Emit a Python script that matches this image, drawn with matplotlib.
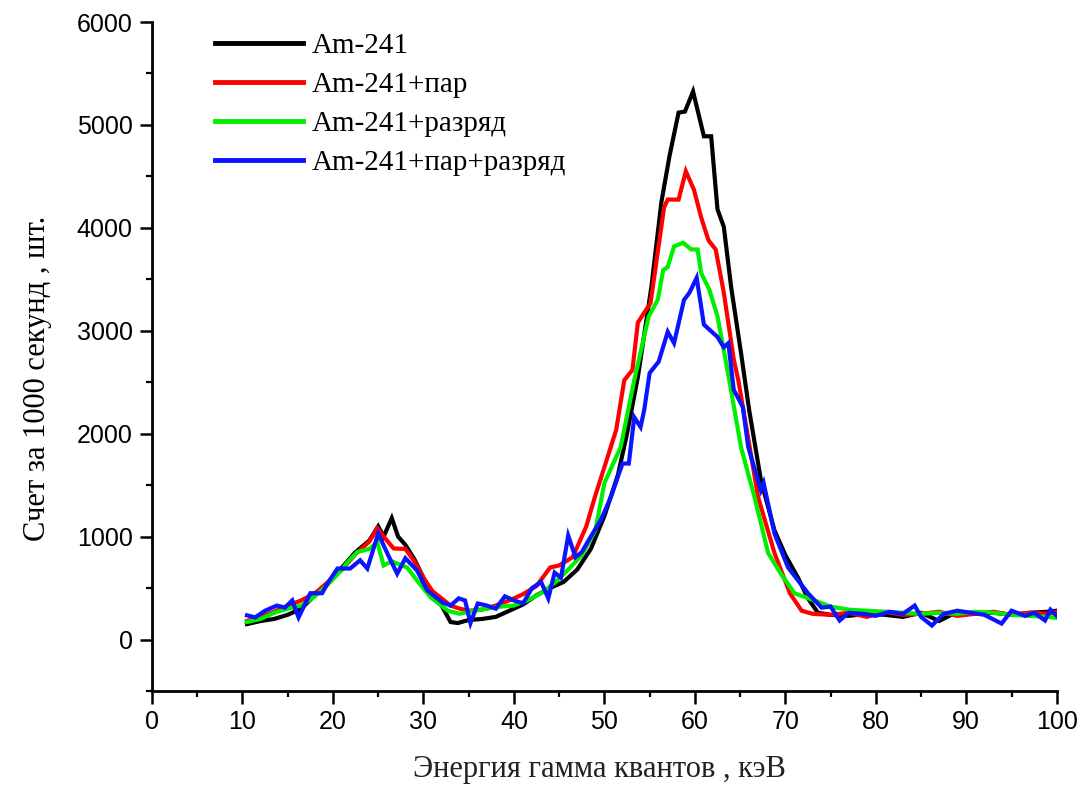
import matplotlib
matplotlib.use("Agg")
import matplotlib.pyplot as plt
from matplotlib.ticker import MultipleLocator

# Am-241 (black)
e_am = [10.5, 12, 13.5, 15, 16.5, 18, 19.5, 21, 22.5, 24, 25, 25.6, 26.5, 27.2, 28, 29, 30, 31, 32, 33,
        33.8, 35, 36.5, 38, 39.5, 41, 42.5, 44, 45.5, 47, 48.5, 50, 51.5, 52.5, 53.7, 55.2, 56.3, 57.2,
        58.2, 58.9, 59.8, 61.0, 61.8, 62.5, 63.2, 64, 65.1, 66, 67.3, 68.8, 70, 71.4, 72.5, 73.6, 75, 77,
        79, 81, 83, 85, 87, 89, 91, 93, 95, 97, 99, 100]
c_am = [150, 180, 200, 240, 300, 430, 560, 700, 850, 960, 1100, 1000, 1180, 1000, 920, 780, 600, 450, 330, 170,
        160, 190, 200, 220, 280, 340, 430, 500, 560, 680, 880, 1200, 1600, 2000, 2550, 3430, 4250, 4700,
        5120, 5130, 5325, 4890, 4890, 4180, 4010, 3430, 2785, 2230, 1550, 1060, 820, 600, 400, 260, 240, 230,
        250, 240, 220, 260, 180, 270, 250, 260, 240, 260, 270, 280]

# Am-241 + пар (red)
e_par = [10.5, 12, 13.5, 15, 16.5, 18, 19.5, 21, 22.5, 24, 24.9, 25.8, 26.7, 28, 29, 30, 31, 32, 33, 34,
         35, 36.5, 38, 39.5, 41, 42.5, 44, 45, 46.5, 48, 49, 50, 51.3, 52.2, 53.1, 53.7, 55.1, 56.6, 57,
         58.2, 59.0, 59.9, 60.7, 61.5, 62.3, 63.2, 64.3, 64.8, 66, 67, 68.8, 70.5, 71.8, 73, 75, 77, 79,
         81, 83, 85, 87, 89, 91, 93, 95, 97, 99, 100]
c_par = [180, 220, 270, 330, 380, 450, 560, 680, 830, 950, 1080, 980, 885, 880, 760, 600, 470, 400, 330, 300,
         280, 290, 330, 380, 440, 520, 700, 720, 800, 1100, 1400, 1675, 2035, 2520, 2620, 3080, 3270, 4200, 4275,
         4275, 4550, 4370, 4100, 3880, 3790, 3370, 2720, 2520, 1900, 1380, 840, 450, 280, 250, 240, 260, 220,
         270, 240, 250, 270, 230, 250, 270, 240, 260, 250, 270]

# Am-241 + разряд (green)
e_raz = [10.5, 12, 13.5, 15, 16.5, 18, 19.5, 21, 21.6, 22.7, 24, 24.9, 25.6, 26.5, 28.2, 29.5, 30.8, 32.7,
         34, 35.5, 37, 38.5, 40, 41.5, 43, 44.5, 46, 47.5, 49, 50, 51.8, 53.3, 54.9, 55.9, 56.5, 57, 57.7,
         58.7, 59.6, 60.3, 60.7, 61.6, 62.5, 63.2, 63.8, 65.1, 66.6, 68.1, 69.5, 71, 73.2, 75, 77, 79, 81,
         83, 85, 87, 89, 91, 93, 95, 97, 99, 100]
c_raz = [170, 200, 260, 300, 330, 420, 540, 680, 750, 850, 880, 945, 720, 760, 700, 550, 410, 280,
         250, 280, 300, 320, 330, 380, 450, 550, 680, 820, 1060, 1520, 1870, 2520, 3140, 3300, 3590, 3620, 3820,
         3855, 3790, 3790, 3560, 3400, 3140, 2810, 2520, 1870, 1380, 840, 640, 450, 380, 320, 290, 280, 270,
         260, 250, 260, 250, 270, 260, 240, 230, 220, 210]

# Am-241 + пар + разряд (blue)
e_both = [10.5, 11.4, 12.5, 13.8, 14.7, 15.5, 16.2, 17.5, 18.8, 19.4, 20.5, 21.9, 23, 23.8, 25, 26.1, 27.1,
          28, 29.3, 30.4, 32.1, 33, 33.9, 34.6, 35.2, 36, 37, 38, 39, 40, 41, 42, 43, 43.8, 44.5, 45.2, 46,
          46.8, 47.5, 48.5, 49.6, 50.7, 52, 52.7, 53.3, 54, 54.4, 55, 56, 57, 57.7, 58.8, 59.4, 60.2, 61,
          62.5, 63.2, 63.7, 64.3, 65.3, 65.9, 67.3, 67.6, 68.8, 70.3, 72.5, 74, 75, 76, 77, 78.5, 80, 81.5,
          83, 84.3, 85, 86.2, 87.5, 89, 90.5, 92, 93.9, 95, 96.5, 97.5, 98.7, 99.3, 100]
c_both = [235, 215, 280, 330, 310, 380, 215, 450, 450, 545, 690, 690, 770, 690, 1030, 820, 640,
          790, 670, 480, 360, 330, 400, 380, 160, 350, 330, 300, 420, 380, 350, 500, 560, 400, 650, 600, 1010,
          800, 850, 1000, 1160, 1380, 1710, 1710, 2160, 2065, 2230, 2590, 2700, 2990, 2880, 3300, 3370, 3515, 3060,
          2940, 2840, 2880, 2425, 2260, 1870, 1450, 1520, 1030, 700, 450, 310, 320, 185, 260, 250, 230, 270,
          250, 330, 220, 136, 250, 280, 260, 240, 155, 280, 230, 260, 185, 290, 230]

SERIES = [
    (e_am, c_am, "#000000", "Am-241"),
    (e_par, c_par, "#ff0000", "Am-241+пар"),
    (e_raz, c_raz, "#00ee00", "Am-241+разряд"),
    (e_both, c_both, "#0a14ff", "Am-241+пар+разряд"),
]

SERIF = ["Liberation Serif", "DejaVu Serif"]
SANS = ["Liberation Sans", "DejaVu Sans"]

fig = plt.figure(figsize=(10.81, 7.87), dpi=100)
ax = fig.add_axes([0.1406, 0.122, 0.837, 0.85])

for e, c, col, lab in SERIES:
    ax.plot(e, c, color=col, linewidth=3.0, label=lab, solid_joinstyle="miter")

ax.set_xlim(0, 100)
ax.set_ylim(-500, 6000)
ax.xaxis.set_major_locator(MultipleLocator(10))
ax.xaxis.set_minor_locator(MultipleLocator(5))
ax.yaxis.set_major_locator(MultipleLocator(1000))
ax.yaxis.set_minor_locator(MultipleLocator(500))

for side in ("top", "right"):
    ax.spines[side].set_visible(False)
for side in ("left", "bottom"):
    ax.spines[side].set_linewidth(2.0)

ax.tick_params(which="major", direction="out", length=9, width=1.8, labelsize=18, pad=5)
ax.tick_params(which="minor", direction="out", length=4, width=1.6)
for lbl in ax.get_xticklabels() + ax.get_yticklabels():
    lbl.set_family(SANS)

ax.set_xlabel("Энергия гамма квантов , кэВ", family=SERIF, fontsize=22, color="#222222")
ax.xaxis.set_label_coords(0.495, -0.096)
ax.set_ylabel("Счет за 1000 секунд , шт.", family=SERIF, fontsize=22)
ax.yaxis.set_label_coords(-0.111, 0.468)

leg = ax.legend(loc="upper left", bbox_to_anchor=(0.07, 0.984), frameon=False,
                borderpad=0, borderaxespad=0,
                handlelength=3.0, handletextpad=0.3, labelspacing=0.43,
                prop={"family": SERIF, "size": 21})
for h in leg.get_lines():
    h.set_linewidth(3.5)

fig.savefig("out.png", dpi=100, facecolor="white")
